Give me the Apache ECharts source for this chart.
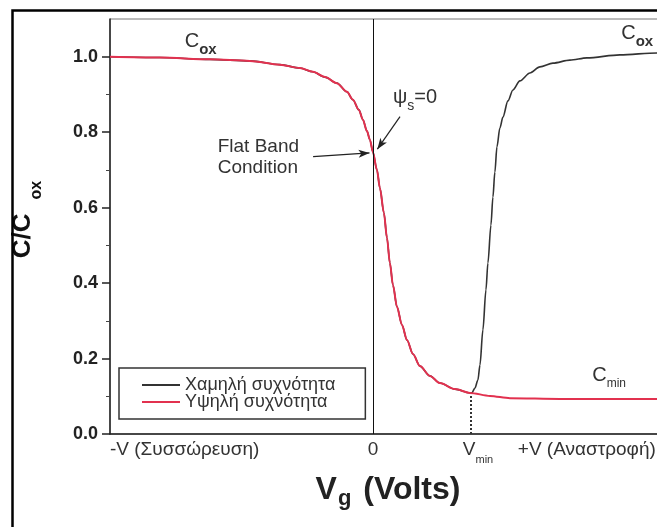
<!DOCTYPE html>
<html><head><meta charset="utf-8">
<script src="https://cdn.jsdelivr.net/npm/echarts@6/dist/echarts.min.js"></script>
<style>html,body{margin:0;padding:0;background:#fff}#c{width:657px;height:527px}</style>
</head><body><div id="c"></div>
<script>
// ---- data (Vg in units of Vmin, C/Cox) ----
const highFreqX = [-2.68, -2.171, -1.662, -1.254, -0.948, -0.744, -0.612, -0.489, -0.367, -0.265, -0.204, -0.143, -0.102, -0.061, -0.031, 0, 0.041, 0.071, 0.112, 0.143, 0.173, 0.204, 0.245, 0.296, 0.347, 0.408, 0.479, 0.581, 0.683, 0.836, 0.989, 1.193, 1.397, 1.906, 2.895, 3.13];
const highFreqY = [1.0, 0.998, 0.993, 0.989, 0.979, 0.970, 0.960, 0.946, 0.930, 0.907, 0.886, 0.859, 0.833, 0.803, 0.780, 0.747, 0.700, 0.652, 0.586, 0.520, 0.453, 0.395, 0.337, 0.289, 0.249, 0.212, 0.180, 0.154, 0.135, 0.119, 0.109, 0.101, 0.095, 0.093, 0.093, 0.093];
const lowFreqX = [-2.68, -2.171, -1.662, -1.254, -0.948, -0.744, -0.612, -0.489, -0.367, -0.265, -0.204, -0.143, -0.102, -0.061, -0.031, 0, 0.041, 0.071, 0.112, 0.143, 0.173, 0.204, 0.245, 0.296, 0.347, 0.408, 0.479, 0.581, 0.683, 0.836, 0.989, 1.009, 1.040, 1.070, 1.091, 1.121, 1.152, 1.172, 1.203, 1.223, 1.243, 1.264, 1.294, 1.325, 1.376, 1.427, 1.498, 1.600, 1.702, 1.835, 2.008, 2.181, 2.518, 2.895, 3.13];
const lowFreqY = [1.0, 0.998, 0.993, 0.989, 0.979, 0.970, 0.960, 0.946, 0.930, 0.907, 0.886, 0.859, 0.833, 0.803, 0.780, 0.747, 0.700, 0.652, 0.586, 0.520, 0.453, 0.395, 0.337, 0.289, 0.249, 0.212, 0.180, 0.154, 0.135, 0.119, 0.109, 0.109, 0.122, 0.143, 0.183, 0.276, 0.382, 0.453, 0.554, 0.628, 0.694, 0.761, 0.811, 0.840, 0.883, 0.912, 0.936, 0.957, 0.973, 0.983, 0.991, 0.997, 1.005, 1.010, 1.011];
const seriesNames = ['Χαμηλή συχνότητα', 'Υψηλή συχνότητα'];
const yTickValues = [0, 0.2, 0.4, 0.6, 0.8, 1.0];
const yMinorTickValues = [0.1, 0.3, 0.5, 0.7, 0.9];
const xTickValues = [-2.68, 0, 1, 2.18];
const xTickLabels = ['-V (Συσσώρευση)', '0', '{v|V}{s|min}', '+V (Αναστροφή)'];
const vMin = 1, cAtVmin = 0.105;
const flatBandArrow = [[-0.61, 0.735], [-0.035, 0.745]];
const psiArrow = [[0.276, 0.841], [0.045, 0.755]];
const annotations = [
  { pos: [-1.918, 1.040], text: '{c|C}{s|ox}' },
  { pos: [2.531, 1.061], text: '{c|C}{s|ox}' },
  { pos: [0.204, 0.891], text: '{c|ψ}{p|s}{c|=0}' },
  { pos: [-1.582, 0.733], text: 'Flat Band\nCondition' },
  { pos: [2.235, 0.156], text: '{c|C}{m|min}' }
];

const FONT = 'Liberation Sans, Arial, sans-serif';
const RED = '#e2314f', BLACK = '#333';
const zip = (xs, ys) => xs.map((x, i) => [x, ys[i]]);

const chart = echarts.init(document.getElementById('c'), null, { renderer: 'canvas' });
chart.setOption({
  animation: false,
  backgroundColor: '#fff',
  grid: { left: 110, top: 19, width: 570, height: 415, show: true, borderColor: '#777', borderWidth: 1, outerBoundsMode: 'none', containLabel: false },
  legend: {
    orient: 'vertical', left: 119, top: 368,
    data: seriesNames,
    icon: 'rect',
    padding: [8, 30, 8, 23],
    borderColor: '#333', borderWidth: 1.5,
    itemWidth: 38, itemHeight: 2, itemGap: -1,
    textStyle: { fontFamily: FONT, fontSize: 18, lineHeight: 16, color: '#333' }
  },
  xAxis: {
    type: 'value', min: -2.68, max: 3.13,
    splitLine: { show: false },
    axisTick: { show: false },
    axisLine: { onZero: false, lineStyle: { color: '#222', width: 1.5 } },
    axisLabel: {
      customValues: xTickValues,
      alignMinLabel: 'left',
      margin: 0, lineHeight: 31,
      fontFamily: FONT, fontSize: 19, color: '#333',
      formatter: v => { const i = xTickValues.findIndex(t => Math.abs(t - v) < 1e-6); return i >= 0 ? xTickLabels[i] : ''; },
      rich: { v: { fontFamily: FONT, fontSize: 19, color: '#333', padding: [0, 0, 0, 14] }, s: { fontFamily: FONT, fontSize: 11, color: '#333', padding: [20, 0, 0, 0] } }
    },
    name: '{b|V}{s|g}{b| (Volts)}', nameLocation: 'middle', nameGap: 37,
    nameTextStyle: {
      padding: [0, 14, 0, 0],
      rich: {
        b: { fontFamily: FONT, fontSize: 32, fontWeight: 'bold', color: '#222' },
        s: { fontFamily: FONT, fontSize: 22, fontWeight: 'bold', color: '#222', padding: [17, 3, 0, 1] }
      }
    }
  },
  yAxis: [{
    type: 'value', min: 0, max: 1.1, position: 'left',
    splitLine: { show: false },
    axisLine: { onZero: false, lineStyle: { color: '#222', width: 1.5 } },
    axisTick: { customValues: yTickValues, length: 8, lineStyle: { color: '#222', width: 1.5 } },
    axisLabel: { customValues: yTickValues, margin: 12, fontFamily: FONT, fontSize: 18, fontWeight: 'bold', color: '#222', formatter: v => v.toFixed(1) },
    name: '{b|C/C}{s|ox}', nameLocation: 'middle', nameRotate: 90, nameGap: 65,
    nameTextStyle: {
      rich: {
        b: { fontFamily: FONT, fontSize: 26, fontWeight: 'bold', color: '#111', padding: [0, 0, 0, 14] },
        s: { fontFamily: FONT, fontSize: 16, fontWeight: 'bold', color: '#111', padding: [29, 0, 0, 14] }
      }
    }
  }, {
    type: 'value', min: 0, max: 1.1, position: 'left',
    splitLine: { show: false }, axisLine: { show: false, onZero: false }, axisLabel: { show: false },
    axisTick: { customValues: yMinorTickValues, length: 4, lineStyle: { color: '#444', width: 1 } }
  }],
  series: [{
    name: seriesNames[0], type: 'line', yAxisIndex: 0,
    data: zip(lowFreqX, lowFreqY), symbol: 'none', smooth: 0.3, smoothMonotone: 'x',
    lineStyle: { color: BLACK, width: 1.6 }, itemStyle: { color: BLACK },
    markLine: {
      silent: true, animation: false,
      label: { show: false },
      data: [
        [{ xAxis: 0, yAxis: 0, symbol: 'none', lineStyle: { color: '#111', width: 1, type: 'solid' } }, { xAxis: 0, yAxis: 1.1, symbol: 'none' }],
        [{ coord: [vMin, 0], symbol: 'none', lineStyle: { color: '#333', width: 2, type: [2, 2] } }, { coord: [vMin, cAtVmin], symbol: 'none' }],
        [{ coord: flatBandArrow[0], symbol: 'none', lineStyle: { color: '#222', width: 1.2, type: 'solid' } }, { coord: flatBandArrow[1], symbol: 'arrow', symbolSize: [6, 11] }],
        [{ coord: psiArrow[0], symbol: 'none', lineStyle: { color: '#222', width: 1.2, type: 'solid' } }, { coord: psiArrow[1], symbol: 'arrow', symbolSize: [6, 11] }]
      ]
    }
  }, {
    name: seriesNames[1], type: 'line', yAxisIndex: 0,
    data: zip(highFreqX, highFreqY), symbol: 'none', smooth: 0.3, smoothMonotone: 'x',
    lineStyle: { color: RED, width: 2 }, itemStyle: { color: RED }
  }]
});

const richStyles = {
  c: { fontFamily: FONT, fontSize: 20, color: '#333' },
  s: { fontFamily: FONT, fontSize: 15, fontWeight: 'bold', color: '#333', padding: [16, 0, 0, 0] },
  p: { fontFamily: FONT, fontSize: 14, color: '#333', padding: [16, 0, 0, 0] },
  m: { fontFamily: FONT, fontSize: 12, color: '#333', padding: [18, 0, 0, 0] }
};
const graphics = [{
  type: 'rect', z: 100, silent: true,
  shape: { x: 12.5, y: 10.5, width: 700, height: 600 },
  style: { fill: 'none', stroke: '#000', lineWidth: 2.5 }
}];
annotations.forEach(a => {
  const p = chart.convertToPixel({ gridIndex: 0 }, a.pos);
  graphics.push({
    type: 'text', x: p[0], y: p[1], z: 100, silent: true,
    style: { text: a.text, rich: richStyles, fontFamily: FONT, fontSize: 19, lineHeight: 21, fill: '#333', align: 'left', verticalAlign: 'middle' }
  });
});
chart.setOption({ graphic: graphics });
</script></body></html>
